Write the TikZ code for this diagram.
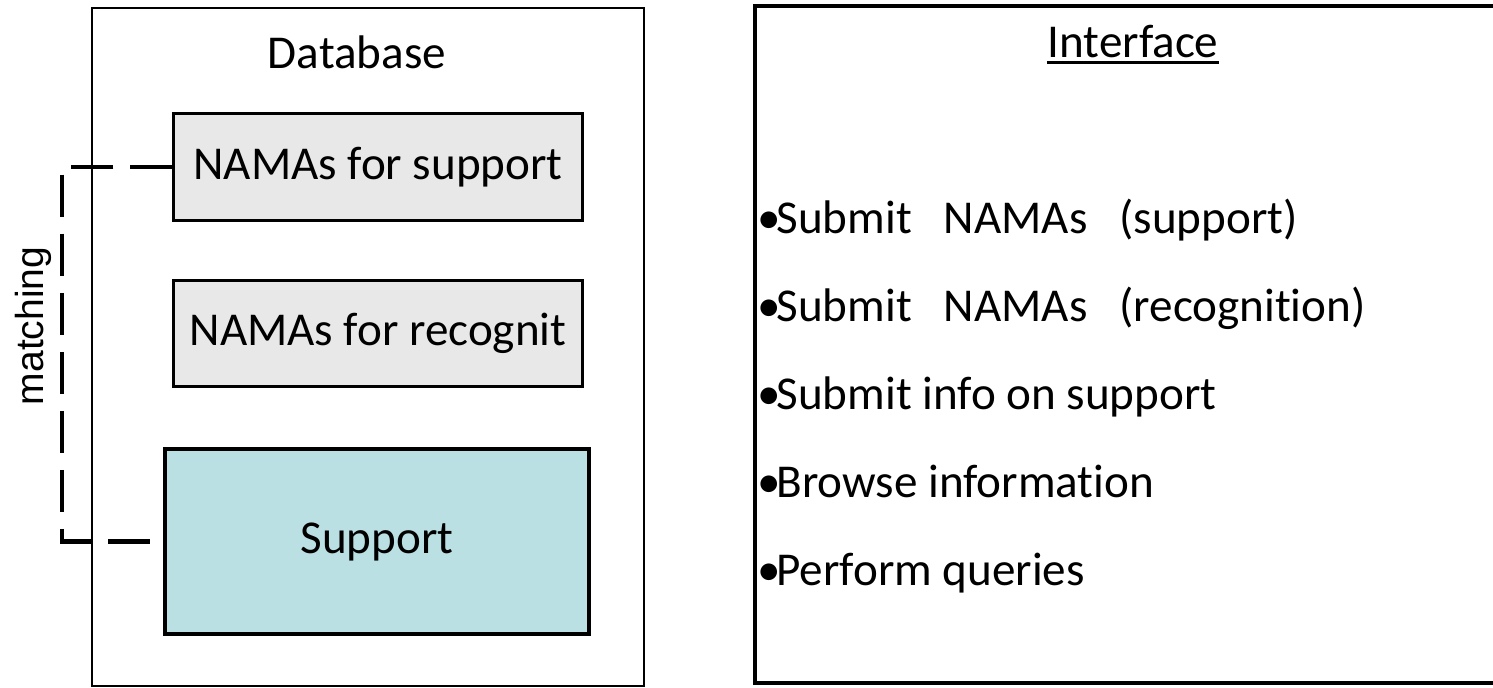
\documentclass[tikz,border=0pt]{standalone}
\usepackage{fontspec}
\setmainfont{Carlito}[Ligatures=NoCommon]
\newfontfamily\arialfont{Liberation Sans}
\usetikzlibrary{calc}
\definecolor{namagray}{RGB}{232,232,232}
\definecolor{supportteal}{RGB}{186,224,227}
\tikzset{
  namabox/.style={draw, line width=0.85pt, fill=namagray, minimum width=4.08cm, minimum height=1.06cm, inner sep=0pt},
  supportbox/.style={draw, line width=1pt, fill=supportteal, minimum width=4.24cm, minimum height=1.85cm, inner sep=0pt},
  ifitem/.style={anchor=base west, inner sep=0pt},
  matchline/.style={line width=1.15pt, dash pattern=on 0.42cm off 0.17cm}
}
\begin{document}
\begin{tikzpicture}[x=0.01cm,y=-0.01cm,font=\fontsize{13.4pt}{16pt}\selectfont]
  \useasboundingbox (0,0) rectangle (1493,687);
  \clip (0,0) rectangle (1493,687);
  % database side
  \draw[line width=0.7pt] (92,8) rectangle (644,686);
  \node[anchor=base, inner sep=0pt] (dbtitle) at (357,68) {Database};
  \node[namabox] (nsup) at (378,167) {NAMAs for support};
  \node[namabox] (nrec) at (378,333.5) {NAMAs for recognit};
  \node[supportbox] (supp) at (377,541.5) {Support};
  % matching link
  \coordinate (mbend) at (62,167);
  \draw[matchline] (nsup.west) -- (mbend) |- (supp.west);
  \node[rotate=90, font=\arialfont\fontsize{11.1pt}{13pt}\selectfont] (match) at (33,326) {matching};
  % interface side
  \draw[line width=0.9pt] (755,6) rectangle (1500,683);
  \node[anchor=base, inner sep=0pt] (iface) at (1133,57) {Interface\ };
  \draw[line width=0.85pt] ([yshift=-0.05cm]iface.base west) -- ([yshift=-0.05cm]iface.base east);
  \node[ifitem] (subsup) at (757,233) {•\kern-0.1em Submit\ \ \ NAMAs\ \ \ (support)};
  \node[ifitem] (subrec) at (757,321) {•\kern-0.1em Submit\ \ \ NAMAs\ \ \ (recognition)};
  \node[ifitem] (subinfo) at (757,409) {•\kern-0.1em Submit info on support};
  \node[ifitem] (browse) at (757,497) {•\kern-0.1em Browse information};
  \node[ifitem] (query) at (757,585) {•\kern-0.1em Perform queries};
\end{tikzpicture}
\end{document}
